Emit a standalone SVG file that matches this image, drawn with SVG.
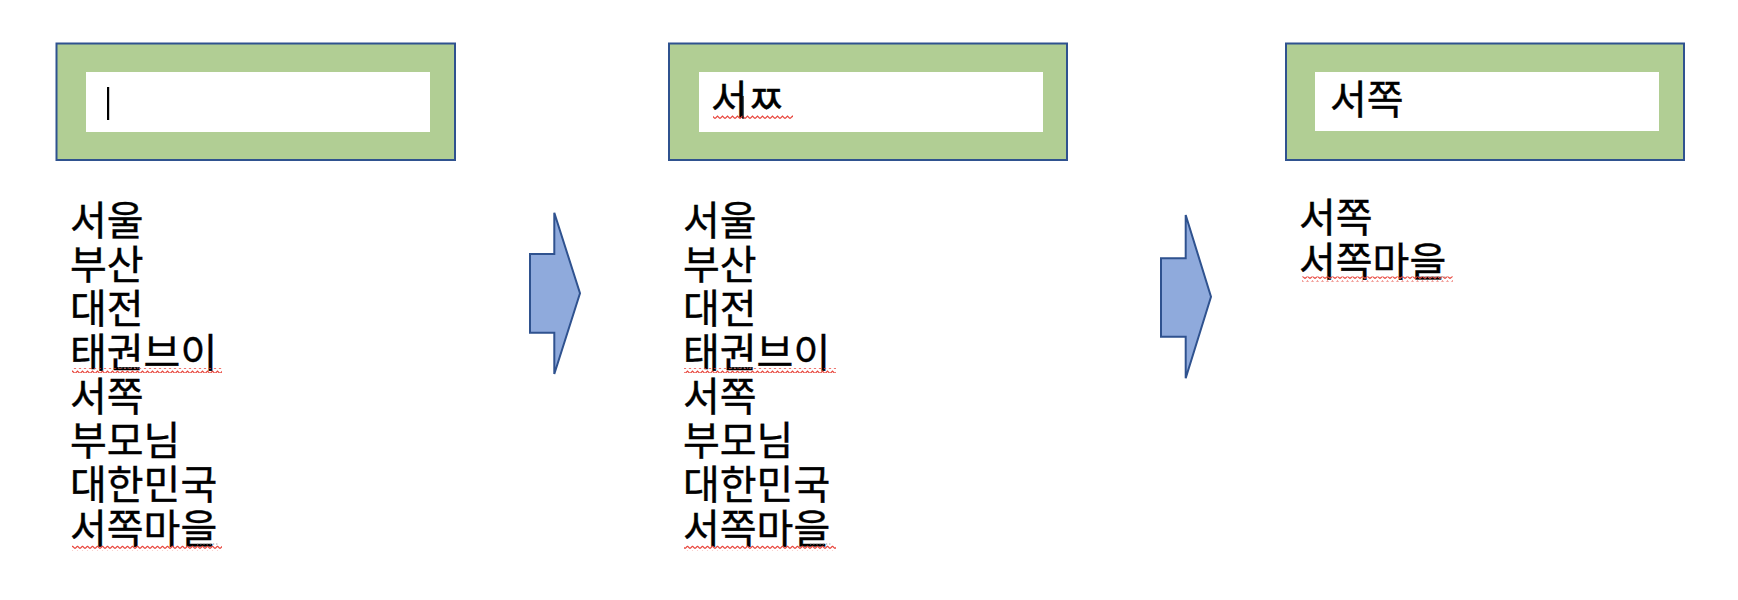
<svg xmlns="http://www.w3.org/2000/svg" width="1738" height="600" viewBox="0 0 1738 600">
  <style>
    .frame { fill: #B1CE94; stroke: #2F528F; stroke-width: 2; }
    .field { fill: #FFFFFF; stroke: none; }
    .txt { font-family: "Liberation Sans", "Noto Sans CJK KR", sans-serif; font-size: 40px; font-weight: 400; fill: #000000; stroke: #000000; stroke-width: 0.4; }
    .arrow { fill: #8FAADC; stroke: #2F528F; stroke-width: 2; stroke-linejoin: miter; }
    .squig { fill: url(#sq); }
    .dots { stroke: #9A9A9A; stroke-width: 1.2; stroke-dasharray: 1.2 2; fill: none; }
  </style>
  <defs>
    <pattern id="sq" width="5" height="5" patternUnits="userSpaceOnUse">
      <path d="M0,3.6 L2.5,1.1 L5,3.6" stroke="#E8453C" stroke-width="1.3" fill="none"/>
    </pattern>
  </defs>
  <rect width="1738" height="600" fill="#FFFFFF"/>

  <g id="search-box-1">
    <rect class="frame" x="56.5" y="43.5" width="398.5" height="116.5"/>
    <rect class="field" x="86" y="72" width="344" height="60"/>
    <rect x="107" y="87" width="2.2" height="33" fill="#000000"/>
  </g>

  <g id="search-box-2">
    <rect class="frame" x="669" y="43.5" width="398" height="116.5"/>
    <rect class="field" x="699" y="72" width="344" height="60"/>
    <text class="txt" x="711" y="114">서ㅉ</text>
    <rect class="squig" x="713" y="114.5" width="80" height="5"/>
    <line x1="743" y1="96" x2="743" y2="119" stroke="#000000" stroke-width="1.2"/>
  </g>

  <g id="search-box-3">
    <rect class="frame" x="1286" y="43.5" width="398" height="116.5"/>
    <rect class="field" x="1315" y="72" width="344" height="59"/>
    <text class="txt" x="1330" y="114">서쪽</text>
  </g>

  <g id="list-1">
    <text class="txt" x="70" y="235">서울</text>
    <text class="txt" x="70" y="279">부산</text>
    <text class="txt" x="70" y="323">대전</text>
    <text class="txt" x="70" y="367">태권브이</text>
    <text class="txt" x="70" y="411">서쪽</text>
    <text class="txt" x="70" y="455">부모님</text>
    <text class="txt" x="70" y="499">대한민국</text>
    <text class="txt" x="70" y="543">서쪽마을</text>
    <rect class="squig" x="72" y="368" width="150" height="5"/>
    <rect class="squig" x="72" y="545.5" width="150" height="5"/>
    <line class="dots" x1="118" y1="368" x2="140" y2="368"/>
    <line class="dots" x1="197" y1="544" x2="219" y2="544"/>
  </g>

  <g id="list-2">
    <text class="txt" x="683" y="235">서울</text>
    <text class="txt" x="683" y="279">부산</text>
    <text class="txt" x="683" y="323">대전</text>
    <text class="txt" x="683" y="367">태권브이</text>
    <text class="txt" x="683" y="411">서쪽</text>
    <text class="txt" x="683" y="455">부모님</text>
    <text class="txt" x="683" y="499">대한민국</text>
    <text class="txt" x="683" y="543">서쪽마을</text>
    <rect class="squig" x="684" y="368" width="152" height="5"/>
    <rect class="squig" x="684" y="545.5" width="152" height="5"/>
    <line class="dots" x1="731" y1="368" x2="753" y2="368"/>
    <line class="dots" x1="810" y1="544" x2="832" y2="544"/>
  </g>

  <g id="list-3">
    <text class="txt" x="1299" y="232">서쪽</text>
    <text class="txt" x="1299" y="276">서쪽마을</text>
    <rect class="squig" x="1302" y="276.5" width="151" height="5"/>
    <line class="dots" x1="1425" y1="277" x2="1447" y2="277"/>
  </g>

  <g id="connectors">
    <polygon class="arrow" points="530,254 554.3,254 554.3,212.7 580,293.3 554.3,374 554.3,332.7 530,332.7"/>
    <polygon class="arrow" points="1161,258.3 1185.7,258.3 1185.7,215 1211,296.7 1185.7,378.3 1185.7,336.7 1161,336.7"/>
  </g>
</svg>
